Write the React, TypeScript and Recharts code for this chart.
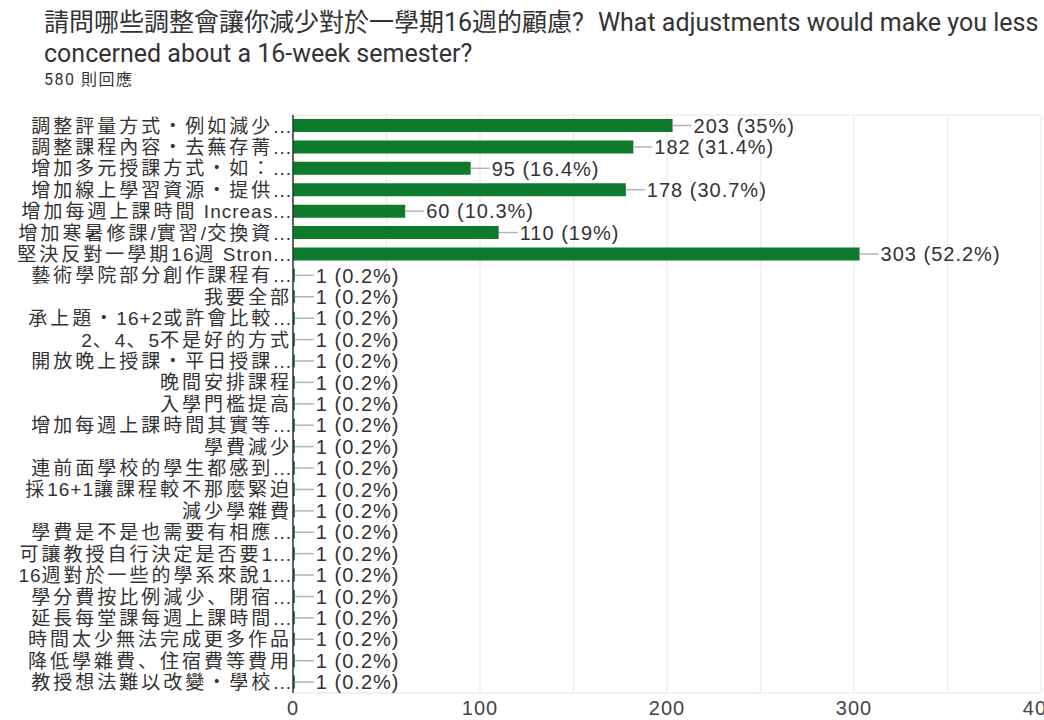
import { BarChart, Bar, XAxis, YAxis, CartesianGrid, LabelList } from 'recharts';

const categories = [
  '調整評量方式・例如減少...',
  '調整課程內容・去蕪存菁...',
  '增加多元授課方式・如：...',
  '增加線上學習資源・提供...',
  '增加每週上課時間 Increas...',
  '增加寒暑修課/實習/交換資...',
  '堅決反對一學期16週 Stron...',
  '藝術學院部分創作課程有...',
  '我要全部',
  '承上題・16+2或許會比較...',
  '2、4、5不是好的方式',
  '開放晚上授課・平日授課...',
  '晚間安排課程',
  '入學門檻提高',
  '增加每週上課時間其實等...',
  '學費減少',
  '連前面學校的學生都感到...',
  '採16+1讓課程較不那麼緊迫',
  '減少學雜費',
  '學費是不是也需要有相應...',
  '可讓教授自行決定是否要1...',
  '16週對於一些的學系來說1...',
  '學分費按比例減少、閉宿...',
  '延長每堂課每週上課時間...',
  '時間太少無法完成更多作品',
  '降低學雜費、住宿費等費用',
  '教授想法難以改變・學校...',
];

const counts = [203, 182, 95, 178, 60, 110, 303, 1, 1, 1, 1, 1, 1, 1, 1, 1, 1, 1, 1, 1, 1, 1, 1, 1, 1, 1, 1];

const TOTAL_RESPONSES = 580;
const xTicks = [0, 50, 100, 150, 200, 250, 300, 350, 400];

const TITLE_ZH = '請問哪些調整會讓你減少對於一學期16週的顧慮?';
const TITLE_EN_1 = 'What adjustments would make you less';
const TITLE_EN_2 = 'concerned about a 16-week semester?';
const SUBTITLE = '580 則回應';

const BAR_COLOR = '#0d7a2c';
const LABEL_FONT = "'Liberation Sans', 'Noto Sans CJK JP', sans-serif";

const data = categories.map((name, i) => ({ name, value: counts[i] }));

const pct = (v: number) => `${Math.round((v / TOTAL_RESPONSES) * 1000) / 10}%`;

// split a label into CJK / latin runs so the wide CJK glyphs can get extra spacing
const CJK_RE = /[\u3000-\u30ff\u3400-\u9fff\uff00-\uffef]/;
function splitRuns(s: string) {
  const runs: { text: string; cjk: boolean }[] = [];
  for (const ch of s) {
    const cjk = CJK_RE.test(ch);
    const last = runs[runs.length - 1];
    if (last && last.cjk === cjk) last.text += ch;
    else runs.push({ text: ch, cjk });
  }
  return runs;
}

function ValueLabel(props: any) {
  const { x, y, width, height, value } = props;
  const x0 = Number(x) + Number(width);
  const cy = Number(y) + Number(height) / 2;
  return (
    <g>
      <line x1={x0} y1={cy} x2={x0 + 19} y2={cy} stroke="#b5b5b5" strokeWidth={1.5} />
      <text
        x={x0 + 21}
        y={cy}
        dy="0.36em"
        fill="#333"
        fontSize={20}
        fontFamily={LABEL_FONT}
        style={{ letterSpacing: '1px' }}
      >
        {`${value} (${pct(value)})`}
      </text>
    </g>
  );
}

function CategoryTick(props: any) {
  const { x, y, payload } = props;
  return (
    <text
      x={x + 2}
      y={y}
      dy="0.36em"
      textAnchor="end"
      fill="#333"
      fontSize={19}
      fontFamily={LABEL_FONT}
    >
      {splitRuns(String(payload.value)).map((r, i) => (
        <tspan key={i} style={{ letterSpacing: r.cjk ? '3px' : '1px' }}>
          {r.text}
        </tspan>
      ))}
    </text>
  );
}

export default function App() {
  return (
    <div
      style={{
        position: 'absolute',
        left: 0,
        top: 0,
        width: 1044,
        height: 720,
        overflow: 'hidden',
        background: '#fff',
      }}
    >
      <div
        style={{
          position: 'absolute',
          left: 44,
          top: 7,
          width: 1200,
          whiteSpace: 'nowrap',
          fontFamily: "Roboto, 'Noto Sans CJK JP', sans-serif",
          fontSize: 25,
          lineHeight: '31px',
          color: '#333',
        }}
      >
        {TITLE_ZH}
        <span style={{ marginLeft: 14 }}>{TITLE_EN_1}</span>
        <br />
        {TITLE_EN_2}
      </div>
      <div
        style={{
          position: 'absolute',
          left: 44,
          top: 66,
          fontFamily: "Roboto, 'Noto Sans CJK JP', sans-serif",
          fontSize: 16,
          letterSpacing: '1.5px',
          color: '#333',
        }}
      >
        {SUBTITLE}
      </div>
      <BarChart
        width={1071}
        height={720}
        data={data}
        layout="vertical"
        margin={{ top: 115, right: 30, left: 0, bottom: 0 }}
        barCategoryGap={0}
      >
        <CartesianGrid
          stroke="#eee"
          strokeWidth={1.5}
          horizontalCoordinatesGenerator={({ offset }: any) => [offset.top, offset.top + offset.height]}
        />
        <XAxis
          type="number"
          domain={[0, 400]}
          ticks={xTicks}
          interval={0}
          tickFormatter={(v: number) => (v % 100 === 0 ? String(v) : '')}
          axisLine={false}
          tickLine={false}
          tickMargin={2}
          height={27}
          tick={{ fill: '#444', fontSize: 20, fontFamily: LABEL_FONT, letterSpacing: '1px' }}
        />
        <YAxis
          type="category"
          dataKey="name"
          width={293}
          interval={0}
          tickLine={false}
          tickSize={0}
          tickMargin={3}
          axisLine={{ stroke: '#333', strokeWidth: 1.5 }}
          tick={<CategoryTick />}
        />
        <Bar dataKey="value" fill={BAR_COLOR} barSize={13} isAnimationActive={false}>
          <LabelList dataKey="value" content={<ValueLabel />} />
        </Bar>
      </BarChart>
    </div>
  );
}
